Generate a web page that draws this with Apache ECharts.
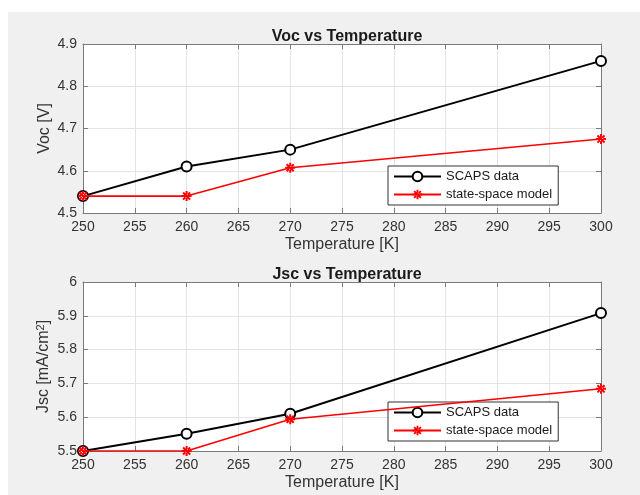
<!DOCTYPE html>
<html>
<head>
<meta charset="utf-8">
<script src="https://cdn.jsdelivr.net/npm/echarts@6/dist/echarts.min.js"></script>
<style>
  html, body { margin: 0; padding: 0; background: #fff; }
  #box {
    width: 640px; height: 495px;
    background: linear-gradient(#f0f0f0, #f0f0f0) no-repeat 8px 12px / 632px 483px, #fff;
  }
</style>
</head>
<body>
<div id="box"></div>
<script>
// data
var temps = [250, 260, 270, 300];
var vocScaps = [4.54, 4.61, 4.65, 4.86];
var vocModel = [4.54, 4.54, 4.607, 4.675];
var jscScaps = [5.5, 5.551, 5.61, 5.908];
var jscModel = [5.5, 5.5, 5.594, 5.684];
var seriesNames = ['SCAPS data', 'state-space model'];
var titles = ['Voc vs Temperature', 'Jsc vs Temperature'];
var yNames = ['{a|Voc [V]}', '{a|Jsc [mA/cm}{s|2}{a|]}'];
var xName = 'Temperature [K]';

var font = 'Liberation Sans, Arial, sans-serif';
var axisGrey = '#7a7a7a';
var asterisk = 'path://M-1,-5L1,-5L1,5L-1,5Z M-5,-1L5,-1L5,1L-5,1Z M4.24,2.83L2.83,4.24L-4.24,-2.83L-2.83,-4.24Z M-4.24,2.83L-2.83,4.24L4.24,-2.83L2.83,-4.24Z';

function pairs(xs, ys) {
    return xs.map(function (x, i) { return [x, ys[i]]; });
}

window.onload = function () {
    var charts = echarts.init(document.getElementById('box'));

    var tops = [44, 282];
    var yRanges = [[4.5, 4.9], [5.5, 6]];
    var lists = [[vocScaps, vocModel], [jscScaps, jscModel]];

    var grid = [], xAxis = [], yAxis = [], series = [], title = [], legend = [];

    for (var g = 0; g < 2; g++) {
        grid.push({left: 83, top: tops[g], width: 518, height: 169,
            show: true, backgroundColor: '#fff', borderWidth: 0});

        title.push({text: titles[g], left: 342, top: tops[g] - 20, textAlign: 'center',
            textStyle: {fontFamily: font, fontSize: 16, fontWeight: 'bold', color: '#1a1a1a'}});

        // bottom x axis
        xAxis.push({type: 'value', gridIndex: g, min: 250, max: 300, interval: 5,
            name: xName, nameLocation: 'middle', nameGap: 24,
            nameTextStyle: {fontFamily: font, fontSize: 16, color: '#333'},
            axisLine: {lineStyle: {color: axisGrey}},
            axisTick: {inside: true, length: 5, lineStyle: {color: axisGrey}},
            axisLabel: {fontFamily: font, fontSize: 14, color: '#333', margin: 7},
            splitLine: {show: true, lineStyle: {color: '#e3e3e3'}}});
        // top x axis (box)
        xAxis.push({type: 'value', gridIndex: g, position: 'top', min: 250, max: 300, interval: 5,
            axisLine: {lineStyle: {color: axisGrey}},
            axisTick: {inside: true, length: 5, lineStyle: {color: axisGrey}},
            axisLabel: {show: false}, splitLine: {show: false}});

        yAxis.push({type: 'value', gridIndex: g, min: yRanges[g][0], max: yRanges[g][1], interval: 0.1,
            name: yNames[g], nameLocation: 'middle', nameGap: 30, nameRotate: 90,
            nameMoveOverlap: false,
            nameTextStyle: {rich: {
                a: {fontFamily: font, fontSize: 16, color: '#333'},
                s: {fontFamily: font, fontSize: 11, color: '#333', verticalAlign: 'top', padding: [0, 0, 7, 0]}
            }},
            axisLine: {show: true, lineStyle: {color: axisGrey}},
            axisTick: {show: true, inside: true, length: 5, lineStyle: {color: axisGrey}},
            axisLabel: {fontFamily: font, fontSize: 14, color: '#333', margin: 6},
            splitLine: {show: true, lineStyle: {color: '#e3e3e3'}}});
        yAxis.push({type: 'value', gridIndex: g, position: 'right', min: yRanges[g][0], max: yRanges[g][1], interval: 0.1,
            axisLine: {show: true, lineStyle: {color: axisGrey}},
            axisTick: {show: true, inside: true, length: 5, lineStyle: {color: axisGrey}},
            axisLabel: {show: false}, splitLine: {show: false}});

        series.push({type: 'line', name: seriesNames[0], xAxisIndex: g * 2, yAxisIndex: g * 2,
            data: pairs(temps, lists[g][0]), symbol: 'emptyCircle', symbolSize: 10,
            lineStyle: {color: '#000', width: 2},
            itemStyle: {color: '#000', borderColor: '#000', borderWidth: 2},
            z: 3, animation: false});
        series.push({type: 'line', name: seriesNames[1], xAxisIndex: g * 2, yAxisIndex: g * 2,
            data: pairs(temps, lists[g][1]), symbol: asterisk, symbolSize: 10,
            lineStyle: {color: '#ff0000', width: 1.6},
            itemStyle: {color: '#ff0000'},
            z: 4, animation: false});

        legend.push({data: seriesNames, orient: 'vertical', left: 388, top: [166, 402][g],
            itemWidth: 47, itemHeight: 12, itemGap: 5, padding: [4, 6, 4, 5],
            backgroundColor: '#fff', borderColor: '#333', borderWidth: 1,
            textStyle: {fontFamily: font, fontSize: 13, color: '#1a1a1a'},
            selectedMode: false});
    }

    charts.setOption({
        animation: false,
        title: title,
        legend: legend,
        grid: grid,
        xAxis: xAxis,
        yAxis: yAxis,
        series: series
    });
};
</script>
</body>
</html>
